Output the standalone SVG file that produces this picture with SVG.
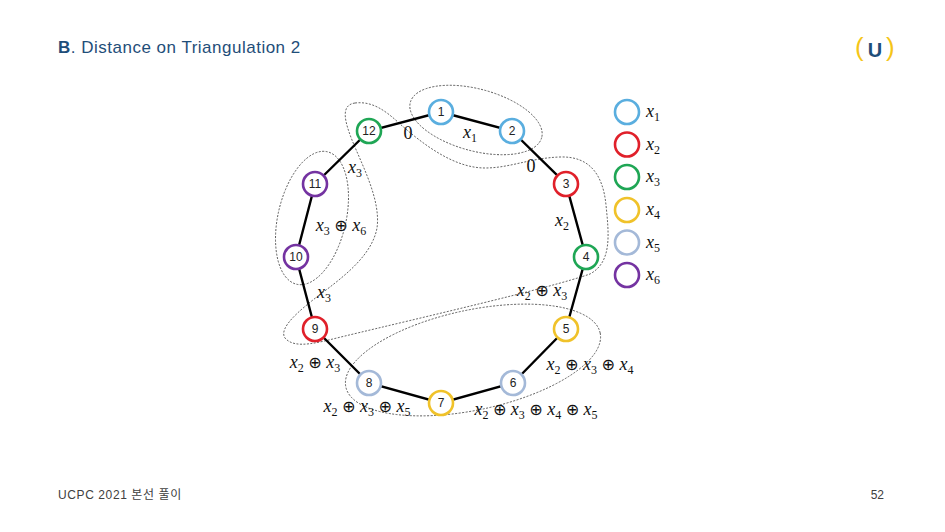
<svg xmlns="http://www.w3.org/2000/svg" width="945" height="532" viewBox="0 0 945 532">
<style>
.nd{fill:#fff;stroke-width:2.6}
.c1{stroke:#5aaedf}.c2{stroke:#e0202a}.c3{stroke:#1fa655}.c4{stroke:#f0c22a}.c5{stroke:#a4b9d8}.c6{stroke:#7433a1}
.nl{font-family:"Liberation Sans",Arial,sans-serif;font-size:12px;fill:#222;text-anchor:middle}
.edge{stroke:#000;stroke-width:2.4;fill:none}
.grp{fill:none;stroke:#555;stroke-width:0.9;stroke-dasharray:2 1.5}
.m{font-family:"Liberation Serif","Times New Roman",serif;font-style:italic;font-size:18px;fill:#111;text-anchor:middle}
.ms{font-family:"Liberation Serif","Times New Roman",serif;font-style:italic;font-size:18px;fill:#111}
.m0{font-family:"Liberation Serif","Times New Roman",serif;font-size:18px;fill:#111;text-anchor:middle}
.op{font-family:"DejaVu Sans",sans-serif;font-style:normal;font-size:16px}
.sb{font-size:12px;font-style:normal}
</style>
<rect width="945" height="532" fill="#fff"/>
<text x="58" y="53" font-family="Liberation Sans,Arial,sans-serif" font-size="17" letter-spacing="0.5" fill="#1f4e79"><tspan font-weight="bold">B</tspan>.  Distance on Triangulation 2</text>
<g id="logo">
<text x="855" y="56" font-family="Liberation Sans,Arial,sans-serif" font-size="26" fill="#f5c518">(</text>
<text x="875" y="57" font-family="Liberation Sans,Arial,sans-serif" font-size="20" font-weight="bold" fill="#1f4e79" text-anchor="middle">U</text>
<text x="886" y="56" font-family="Liberation Sans,Arial,sans-serif" font-size="26" fill="#f5c518">)</text>
</g>
<g id="groups">
<ellipse class="grp" cx="476" cy="120" rx="68" ry="31" transform="rotate(15 476 120)"/>
<ellipse class="grp" cx="312" cy="218" rx="34" ry="68" transform="rotate(13 312 218)"/>
<ellipse class="grp" cx="473" cy="360" rx="130" ry="50" transform="rotate(-12 473 360)"/>
<path class="grp" d="M355,103 C372,101 385,110 400,124 C425,146 455,168 485,168 C510,168 530,158 560,157 C590,156 603,175 606,205 C609,235 612,262 590,274 C550,288 420,318 345,336 C320,342 295,350 285,338 C278,328 300,310 318,296 C345,276 372,255 377,228 C381,200 362,165 352,140 C345,122 340,105 355,103 Z"/>
</g>
<g id="connectors">
<polyline class="edge" points="441,112 512,131 566,184 586,257 566,329 513,383 441,403 369,383 315,329 296,257 315,184 369,131 441,112"/>
</g>
<g id="edge-labels">
<text class="m0" x="408" y="139">0</text>
<text class="m" x="470" y="138">x<tspan class="sb" dy="4">1</tspan></text>
<text class="m0" x="531" y="172">0</text>
<text class="m" x="355" y="173">x<tspan class="sb" dy="4">3</tspan></text>
<text class="m" x="341" y="231">x<tspan class="sb" dy="4">3</tspan><tspan dy="-4"> </tspan><tspan class="op">⊕</tspan> x<tspan class="sb" dy="4">6</tspan></text>
<text class="m" x="562" y="226">x<tspan class="sb" dy="4">2</tspan></text>
<text class="m" x="542" y="296">x<tspan class="sb" dy="4">2</tspan><tspan dy="-4"> </tspan><tspan class="op">⊕</tspan> x<tspan class="sb" dy="4">3</tspan></text>
<text class="m" x="324" y="298">x<tspan class="sb" dy="4">3</tspan></text>
<text class="m" x="315" y="368">x<tspan class="sb" dy="4">2</tspan><tspan dy="-4"> </tspan><tspan class="op">⊕</tspan> x<tspan class="sb" dy="4">3</tspan></text>
<text class="m" x="590" y="370">x<tspan class="sb" dy="4">2</tspan><tspan dy="-4"> </tspan><tspan class="op">⊕</tspan> x<tspan class="sb" dy="4">3</tspan><tspan dy="-4"> </tspan><tspan class="op">⊕</tspan> x<tspan class="sb" dy="4">4</tspan></text>
<text class="m" x="367" y="412">x<tspan class="sb" dy="4">2</tspan><tspan dy="-4"> </tspan><tspan class="op">⊕</tspan> x<tspan class="sb" dy="4">3</tspan><tspan dy="-4"> </tspan><tspan class="op">⊕</tspan> x<tspan class="sb" dy="4">5</tspan></text>
<text class="m" x="536" y="415">x<tspan class="sb" dy="4">2</tspan><tspan dy="-4"> </tspan><tspan class="op">⊕</tspan> x<tspan class="sb" dy="4">3</tspan><tspan dy="-4"> </tspan><tspan class="op">⊕</tspan> x<tspan class="sb" dy="4">4</tspan><tspan dy="-4"> </tspan><tspan class="op">⊕</tspan> x<tspan class="sb" dy="4">5</tspan></text>
</g>
<g id="node-1"><circle class="nd c1" cx="441" cy="112" r="12"/><text class="nl" x="441" y="116">1</text></g>
<g id="node-2"><circle class="nd c1" cx="512" cy="131" r="12"/><text class="nl" x="512" y="135">2</text></g>
<g id="node-3"><circle class="nd c2" cx="566" cy="184" r="12"/><text class="nl" x="566" y="188">3</text></g>
<g id="node-4"><circle class="nd c3" cx="586" cy="257" r="12"/><text class="nl" x="586" y="261">4</text></g>
<g id="node-5"><circle class="nd c4" cx="566" cy="329" r="12"/><text class="nl" x="566" y="333">5</text></g>
<g id="node-6"><circle class="nd c5" cx="513" cy="383" r="12"/><text class="nl" x="513" y="387">6</text></g>
<g id="node-7"><circle class="nd c4" cx="441" cy="403" r="12"/><text class="nl" x="441" y="407">7</text></g>
<g id="node-8"><circle class="nd c5" cx="369" cy="383" r="12"/><text class="nl" x="369" y="387">8</text></g>
<g id="node-9"><circle class="nd c2" cx="315" cy="329" r="12"/><text class="nl" x="315" y="333">9</text></g>
<g id="node-10"><circle class="nd c6" cx="296" cy="257" r="12"/><text class="nl" x="296" y="261">10</text></g>
<g id="node-11"><circle class="nd c6" cx="315" cy="184" r="12"/><text class="nl" x="315" y="188">11</text></g>
<g id="node-12"><circle class="nd c3" cx="369" cy="131" r="12"/><text class="nl" x="369" y="135">12</text></g>
<g id="legend">
<g id="legend-x1"><circle class="nd c1" cx="627" cy="112" r="12"/><text class="ms" x="646" y="117">x<tspan class="sb" dy="4">1</tspan></text></g>
<g id="legend-x2"><circle class="nd c2" cx="627" cy="144.5" r="12"/><text class="ms" x="646" y="149.5">x<tspan class="sb" dy="4">2</tspan></text></g>
<g id="legend-x3"><circle class="nd c3" cx="627" cy="177" r="12"/><text class="ms" x="646" y="182">x<tspan class="sb" dy="4">3</tspan></text></g>
<g id="legend-x4"><circle class="nd c4" cx="627" cy="210" r="12"/><text class="ms" x="646" y="215">x<tspan class="sb" dy="4">4</tspan></text></g>
<g id="legend-x5"><circle class="nd c5" cx="627" cy="242.5" r="12"/><text class="ms" x="646" y="247.5">x<tspan class="sb" dy="4">5</tspan></text></g>
<g id="legend-x6"><circle class="nd c6" cx="627" cy="275" r="12"/><text class="ms" x="646" y="280">x<tspan class="sb" dy="4">6</tspan></text></g>
</g>
<text x="58" y="499" font-family="Liberation Sans,'Noto Sans CJK KR',sans-serif" font-size="12" letter-spacing="0.6" fill="#404040">UCPC 2021 본선 풀이</text>
<text x="884" y="499" font-family="Liberation Sans,Arial,sans-serif" font-size="12" fill="#404040" text-anchor="end">52</text>
</svg>
